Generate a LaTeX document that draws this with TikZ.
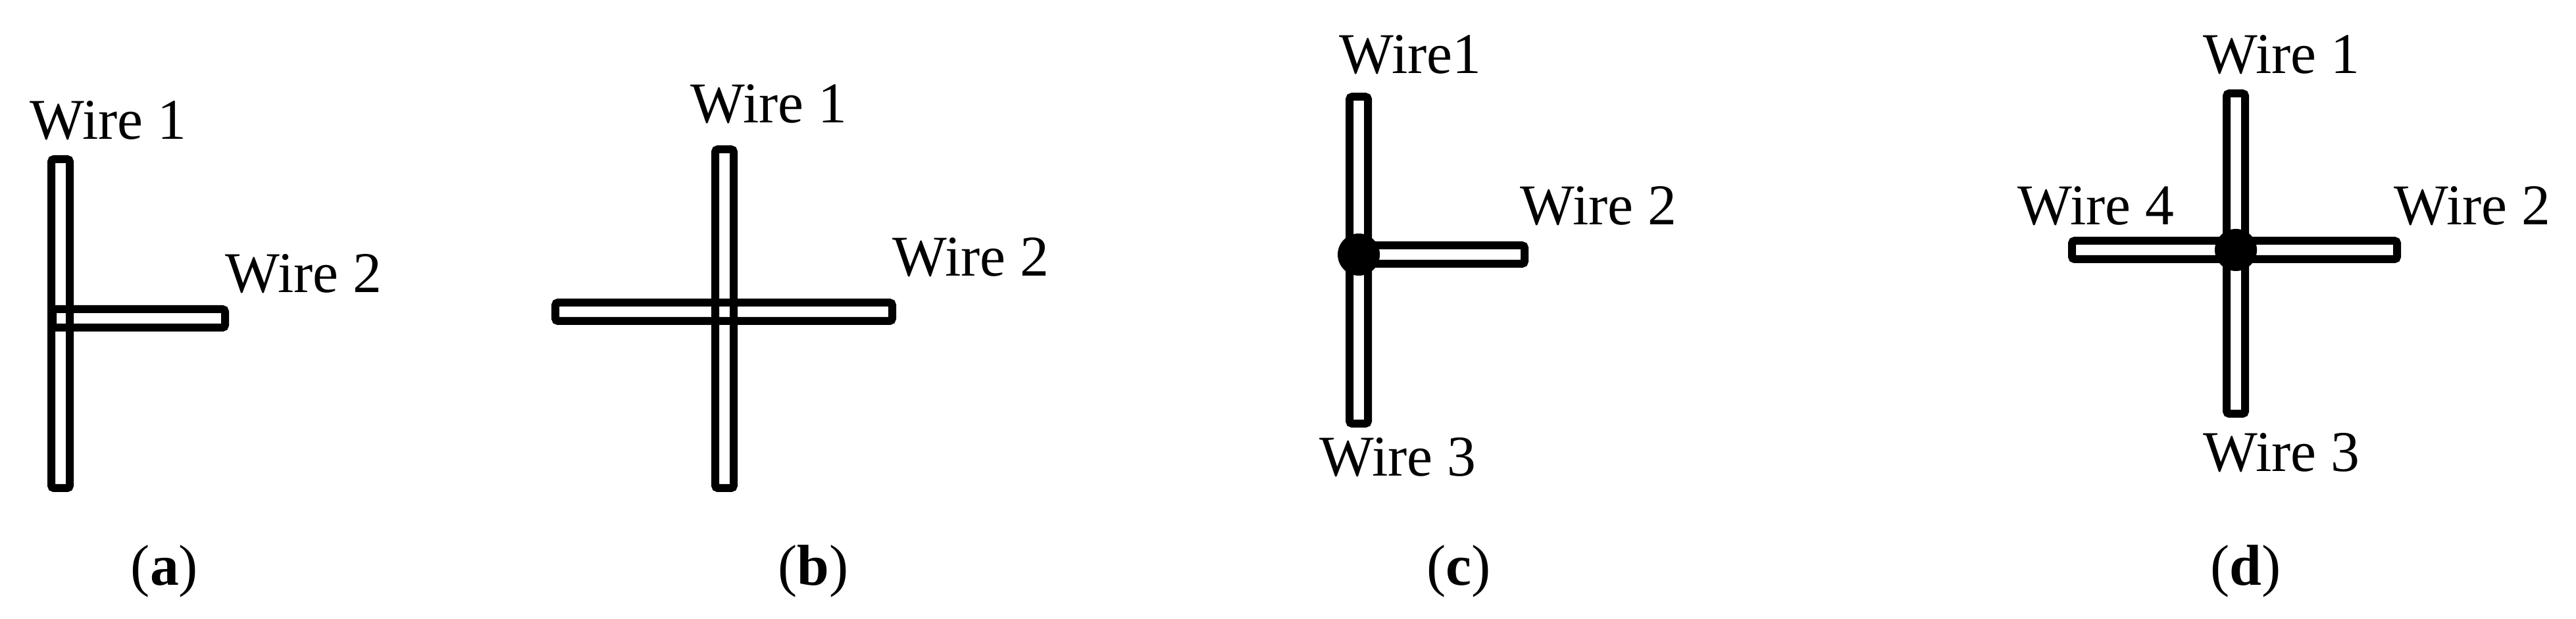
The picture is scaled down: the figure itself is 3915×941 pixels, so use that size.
\documentclass[tikz,border=0pt]{standalone}
\usepackage{fontspec}
\setmainfont{Liberation Serif}
\begin{document}
\begin{tikzpicture}[x=0.25bp,y=-0.25bp,
  wire/.style={draw=black,line width=3bp,rounded corners=1bp},
  lbl/.style={inner sep=0pt,anchor=base west,font=\fontsize{22}{26}\selectfont},
  captxt/.style={inner sep=0pt,anchor=base,font=\fontsize{22}{26}\selectfont},
  dot/.style={fill=black}]
\useasboundingbox (0,0) rectangle (3915,941);
% (a)
\draw[wire] (78,242) rectangle (106,742);
\draw[wire] (80,470) rectangle (342,498);
\node[lbl] (a1) at (45,212) {Wire 1};
\node[lbl] (a2) at (342,445) {Wire 2};
\node[captxt] (ca) at (250,890) {(\textbf{a})};
% (b)
\draw[wire] (1087,227) rectangle (1115,742);
\draw[wire] (844,460) rectangle (1356,488);
\node[lbl] (b1) at (1049,187) {Wire 1};
\node[lbl] (b2) at (1356,420) {Wire 2};
\node[captxt] (cb) at (1236,890) {(\textbf{b})};
% (c)
\draw[wire] (2051,147) rectangle (2079,644);
\draw[wire] (2065,373) rectangle (2317,401);
\fill[dot] (2065,387) circle (8bp);
\node[lbl] (c1) at (2035,112) {Wire1};
\node[lbl] (c2) at (2310,342) {Wire 2};
\node[lbl] (c3) at (2005,724) {Wire 3};
\node[captxt] (cc) at (2217,890) {(\textbf{c})};
% (d)
\draw[wire] (3384,142) rectangle (3412,629);
\draw[wire] (3149,366) rectangle (3643,394);
\fill[dot] (3398,380) circle (8bp);
\node[lbl] (d1) at (3348,112) {Wire 1};
\node[lbl] (d4) at (3066,342) {Wire 4};
\node[lbl] (d2) at (3638,342) {Wire 2};
\node[lbl] (d3) at (3348,717) {Wire 3};
\node[captxt] (cd) at (3413,890) {(\textbf{d})};
\end{tikzpicture}
\end{document}
